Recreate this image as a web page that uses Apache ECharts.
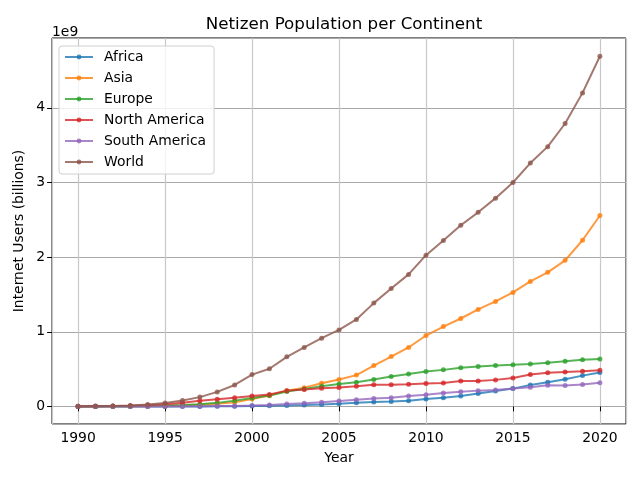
<!DOCTYPE html>
<html>
<head>
<meta charset="utf-8">
<script src="https://cdn.jsdelivr.net/npm/echarts@6/dist/echarts.min.js"></script>
<style>
  html, body { margin: 0; padding: 0; background: #fff; }
  #main { width: 640px; height: 477px; }
</style>
</head>
<body>
<div id="main"></div>
<script type="text/javascript">
// years on the x axis
var years = [];
for (var y = 1990; y <= 2020; y++) years.push(y);

// internet users, in billions (axis shows 1e9)
var africa = [0, 0, 0, 0, 0, 0.0001, 0.0005, 0.001, 0.002, 0.003,
  0.005, 0.008, 0.012, 0.018, 0.026, 0.035, 0.05, 0.06, 0.066, 0.078,
  0.1, 0.118, 0.14, 0.172, 0.208, 0.239, 0.288, 0.324, 0.364, 0.413, 0.455];
var asia = [0.0005, 0.001, 0.0015, 0.002, 0.004, 0.008, 0.014, 0.022, 0.035, 0.055,
  0.1, 0.145, 0.212, 0.252, 0.31, 0.36, 0.42, 0.548, 0.668, 0.79,
  0.95, 1.07, 1.178, 1.3, 1.407, 1.527, 1.675, 1.796, 1.957, 2.226, 2.557];
var europe = [0.0005, 0.001, 0.002, 0.004, 0.007, 0.012, 0.02, 0.03, 0.048, 0.078,
  0.112, 0.148, 0.199, 0.235, 0.272, 0.3, 0.325, 0.362, 0.4, 0.435,
  0.467, 0.49, 0.517, 0.534, 0.548, 0.557, 0.57, 0.584, 0.605, 0.624, 0.637];
var northAmerica = [0.002, 0.003, 0.005, 0.009, 0.017, 0.03, 0.05, 0.075, 0.098, 0.116,
  0.14, 0.16, 0.212, 0.228, 0.243, 0.255, 0.27, 0.29, 0.29, 0.297,
  0.306, 0.315, 0.342, 0.342, 0.356, 0.38, 0.427, 0.45, 0.463, 0.47, 0.485];
var southAmerica = [0, 0, 0, 0.0002, 0.0005, 0.001, 0.002, 0.003, 0.005, 0.007,
  0.012, 0.02, 0.033, 0.042, 0.055, 0.072, 0.09, 0.107, 0.118, 0.14,
  0.158, 0.18, 0.198, 0.212, 0.22, 0.239, 0.257, 0.284, 0.28, 0.293, 0.318];
var world = [0.0026, 0.0045, 0.007, 0.014, 0.025, 0.045, 0.08, 0.125, 0.195, 0.288,
  0.427, 0.505, 0.665, 0.79, 0.915, 1.025, 1.165, 1.384, 1.58, 1.769,
  2.026, 2.223, 2.427, 2.6, 2.79, 3.0, 3.26, 3.48, 3.79, 4.2, 4.69];

var names = ['Africa', 'Asia', 'Europe', 'North America', 'South America', 'World'];
var values = [africa, asia, europe, northAmerica, southAmerica, world];
var colors = ['#1f77b4', '#ff7f0e', '#2ca02c', '#d62728', '#9467bd', '#8c564b'];

var FONT = 'DejaVu Sans';

var myChart = echarts.init(document.getElementById('main'), null, { renderer: 'canvas' });

var series = names.map(function (name, i) {
    return {
        name: name,
        type: 'line',
        data: years.map(function (yr, j) { return [yr, values[i][j]]; }),
        symbol: 'circle',
        symbolSize: 5,
        showAllSymbol: true,
        animation: false,
        lineStyle: { width: 2, color: colors[i], opacity: 0.8 },
        itemStyle: { color: colors[i], opacity: 0.8 },
        emphasis: { disabled: true }
    };
});

var option = {
    backgroundColor: '#fff',
    animation: false,
    title: {
        text: 'Netizen Population per Continent',
        left: 339,
        textAlign: 'center',
        top: 11,
        textStyle: { fontFamily: FONT, fontSize: 16.7, fontWeight: 'normal', color: '#000' }
    },
    legend: {
        orient: 'vertical',
        left: 59,
        top: 46,
        padding: [4, 8, 5, 5],
        itemGap: 7,
        itemWidth: 28,
        itemHeight: 6,
        backgroundColor: 'rgba(255,255,255,0.8)',
        borderColor: '#d0d0d0',
        borderWidth: 1,
        borderRadius: 3,
        textStyle: { fontFamily: FONT, fontSize: 13.9, lineHeight: 14, color: '#000', padding: [0, 0, 0, 6] },
        data: names
    },
    grid: {
        left: 52, right: 14, top: 38, bottom: 53,
        show: true, borderColor: '#000', borderWidth: 1, backgroundColor: 'transparent'
    },
    xAxis: {
        type: 'value',
        min: 1988.5,
        max: 2021.5,
        splitNumber: 6,
        axisLine: { show: false },
        axisTick: { show: true, length: 4.9, lineStyle: { color: '#000' } },
        axisLabel: {
            margin: 7, showMinLabel: false, showMaxLabel: false,
            fontFamily: FONT, fontSize: 13.9, color: '#000',
            formatter: function (v) { return String(v); }
        },
        splitLine: { show: true, lineStyle: { color: '#c8c8c8', width: 1.2 } }
    },
    yAxis: {
        type: 'value',
        min: -0.235,
        max: 4.935,
        splitNumber: 5,
        axisLine: { show: false },
        axisTick: { show: true, length: 4.9, lineStyle: { color: '#000' } },
        axisLabel: {
            margin: 7, showMinLabel: false, showMaxLabel: false,
            fontFamily: FONT, fontSize: 13.9, color: '#000',
            formatter: function (v) { return String(Math.round(v)); }
        },
        splitLine: { show: true, lineStyle: { color: '#a8a8a8', width: 1.2 } }
    },
    graphic: [
        { type: 'text', left: 52, top: 25,
          style: { text: '1e9', font: '13.9px "DejaVu Sans"', fill: '#000' } },
        { type: 'text', x: 19, y: 231, rotation: Math.PI / 2,
          style: { text: 'Internet Users (billions)', font: '13.9px "DejaVu Sans"', fill: '#000',
                   align: 'center', verticalAlign: 'middle' } },
        { type: 'text', x: 339, y: 458,
          style: { text: 'Year', font: '13.9px "DejaVu Sans"', fill: '#000',
                   align: 'center', verticalAlign: 'middle' } }
    ],
    series: series
};

myChart.setOption(option);
</script>
</body>
</html>
